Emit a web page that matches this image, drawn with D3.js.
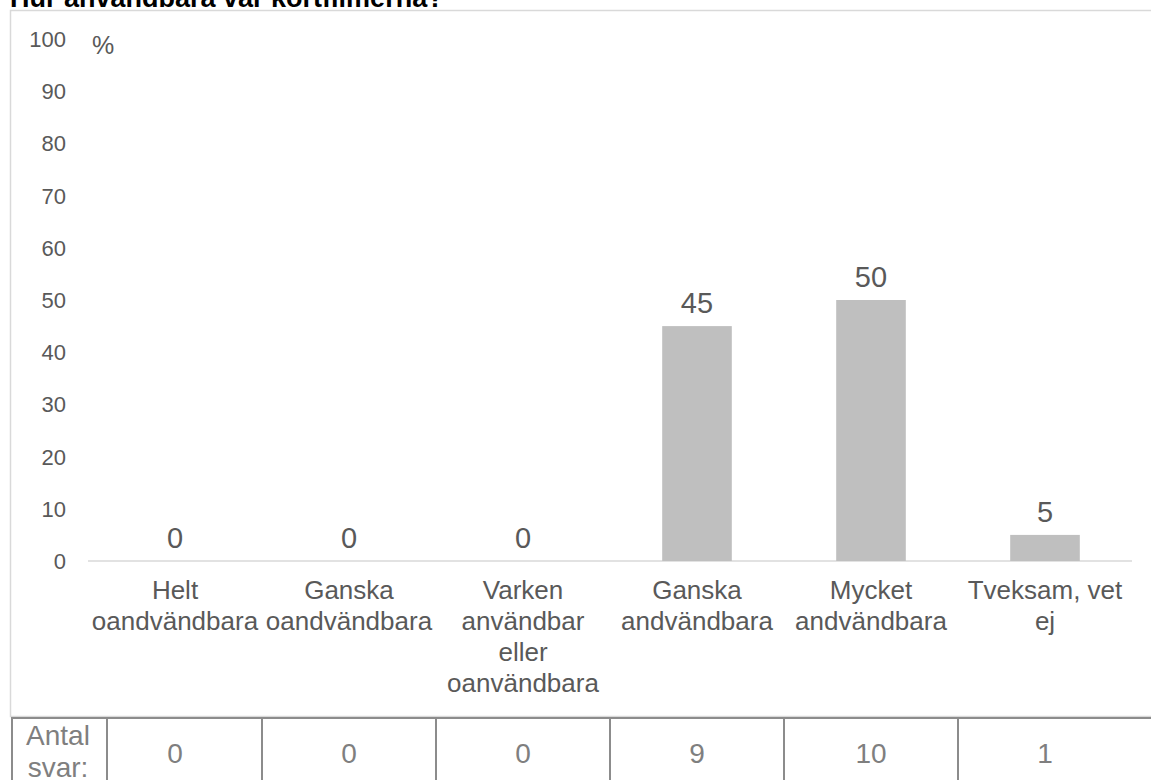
<!DOCTYPE html>
<html>
<head>
<meta charset="utf-8">
<script src="https://cdn.jsdelivr.net/npm/d3@7"></script>
<style>
  body { margin: 0; background: #fff; }
  svg { display: block; font-family: Arial, "Liberation Sans", sans-serif; }
</style>
</head>
<body>
<div id="viz-container"></div>
<script>
// data
let categories = [
  "Helt\noandvändbara",
  "Ganska\noandvändbara",
  "Varken\nanvändbar\neller\noanvändbara",
  "Ganska\nandvändbara",
  "Mycket\nandvändbara",
  "Tveksam, vet\nej"
];
let percents = [0, 0, 0, 45, 50, 5];
let counts = [0, 0, 0, 9, 10, 1];
let yTicks = [0, 10, 20, 30, 40, 50, 60, 70, 80, 90, 100];
let title = "Hur användbara var kortfilmerna?";
let countLabel = ["Antal", "svar:"];

let viz = d3.select("#viz-container")
  .append("svg")
    .attr("width", 1151)
    .attr("height", 780)
;

// chart frame (runs off the right edge like the original)
viz.append("rect")
  .attr("x", 10.5)
  .attr("y", 10.5)
  .attr("width", 1160)
  .attr("height", 706)
  .attr("fill", "none")
  .attr("stroke", "#d9d9d9")
  .attr("stroke-width", 1.5)
;

// title is mostly cut off at the top in the original
viz.append("text")
  .text(title)
  .attr("x", 10)
  .attr("y", 7)
  .attr("font-size", 27)
  .attr("font-weight", "bold")
  .attr("fill", "#000")
;

let x = d3.scaleBand()
  .domain(categories)
  .range([88, 1132])
  .paddingInner(0.6)
  .paddingOuter(0.3)
;
let y = d3.scaleLinear()
  .domain([0, 100])
  .range([561, 39])
;

// y tick labels
viz.append("g").selectAll("text").data(yTicks).enter()
  .append("text")
    .attr("x", 66)
    .attr("y", d => y(d) + 8)
    .attr("text-anchor", "end")
    .attr("font-size", 22)
    .attr("fill", "#595959")
    .text(d => d)
;
viz.append("text")
  .text("%")
  .attr("x", 92)
  .attr("y", 54)
  .attr("font-size", 25)
  .attr("fill", "#595959")
;

// baseline
viz.append("line")
  .attr("x1", 88)
  .attr("x2", 1132)
  .attr("y1", y(0))
  .attr("y2", y(0))
  .attr("stroke", "#d9d9d9")
  .attr("stroke-width", 1.5)
;

let bars = viz.selectAll(".bar").data(percents).enter()
  .append("g")
    .attr("class", "bar")
;
bars.append("rect")
  .attr("x", (d, i) => x(categories[i]))
  .attr("y", d => y(d))
  .attr("width", x.bandwidth())
  .attr("height", d => y(0) - y(d))
  .attr("fill", "#bfbfbf")
;
bars.append("text")
  .attr("x", (d, i) => x(categories[i]) + x.bandwidth() / 2)
  .attr("y", d => y(d) - 13)
  .attr("text-anchor", "middle")
  .attr("font-size", 29)
  .attr("fill", "#595959")
  .text(d => d)
;

// category labels, wrapped like excel does
let catLabels = viz.selectAll(".cat").data(categories).enter()
  .append("text")
    .attr("class", "cat")
    .attr("text-anchor", "middle")
    .attr("font-size", 26)
    .attr("fill", "#595959")
;
catLabels.selectAll("tspan").data(d => d.split("\n").map(t => ({t: t, c: d}))).enter()
  .append("tspan")
    .attr("x", d => x(d.c) + x.bandwidth() / 2)
    .attr("y", (d, i) => 599 + i * 31)
    .text(d => d.t)
;

// data table underneath
let step = x.step();
let tableTop = 718;
viz.append("line")
  .attr("x1", 11).attr("x2", 1151)
  .attr("y1", tableTop).attr("y2", tableTop)
  .attr("stroke", "#8c8c8c")
  .attr("stroke-width", 2)
;
let edges = [12, 107].concat(categories.slice(1).map(c => x(c) + x.bandwidth() / 2 - step / 2));
viz.append("g").selectAll("line").data(edges).enter()
  .append("line")
    .attr("x1", d => d).attr("x2", d => d)
    .attr("y1", tableTop).attr("y2", 780)
    .attr("stroke", "#8c8c8c")
    .attr("stroke-width", 2)
;
viz.append("text")
  .attr("text-anchor", "middle")
  .attr("font-size", 28)
  .attr("fill", "#7f7f7f")
  .selectAll("tspan").data(countLabel).enter()
  .append("tspan")
    .attr("x", 58)
    .attr("y", (d, i) => 745 + i * 32)
    .text(d => d)
;
viz.append("g").selectAll("text").data(counts).enter()
  .append("text")
    .attr("x", (d, i) => x(categories[i]) + x.bandwidth() / 2)
    .attr("y", 763)
    .attr("text-anchor", "middle")
    .attr("font-size", 28)
    .attr("fill", "#7f7f7f")
    .text(d => d)
;
</script>
</body>
</html>
